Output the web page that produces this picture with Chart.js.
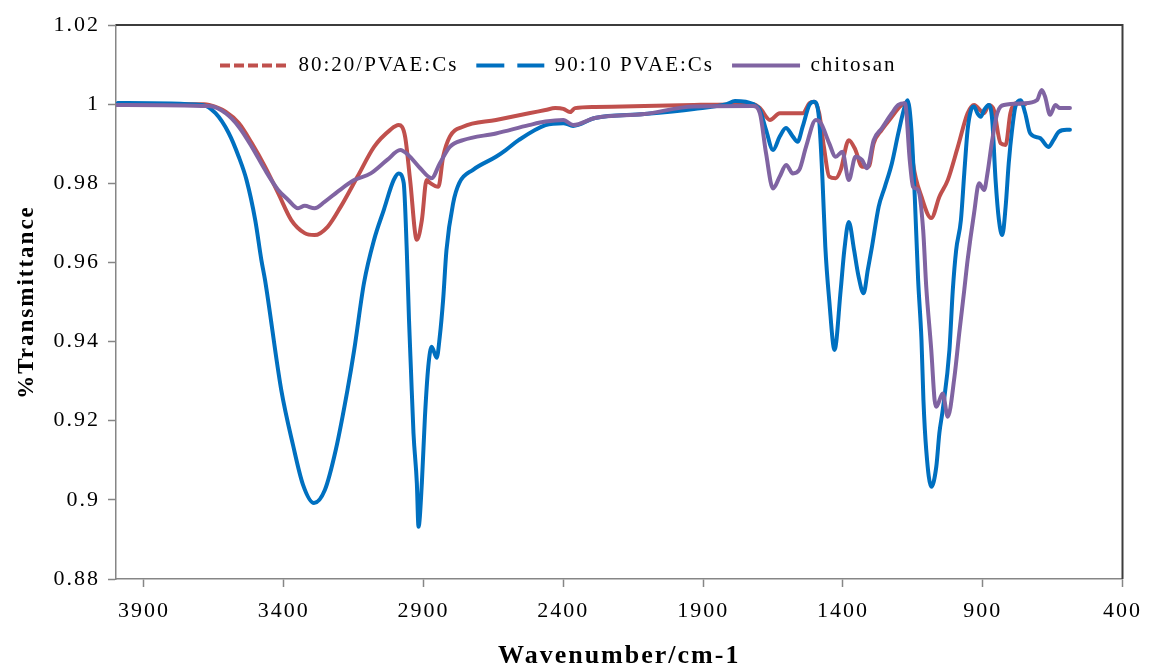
<!DOCTYPE html>
<html lang="en">

<head>
    <meta charset="UTF-8">
    <title>FTIR - PVAE:Cs</title>
    <script src="https://cdn.jsdelivr.net/npm/chart.js"></script>
    <style>
        html,
        body {
            margin: 0;
            padding: 0;
            background: #fff;
            overflow: hidden;
        }

        canvas {
            display: block;
        }
    </style>
</head>

<body>
    <canvas id="grafico" width="1153" height="680"></canvas>
</body>

</html>
<script>

    // espectros (numero de onda em cm-1, transmitancia)
    const seriesNames = ["80:20/PVAE:Cs", "90:10 PVAE:Cs", "chitosan"];

    const wn8020 = [3993, 3685, 3667, 3608, 3561, 3514, 3467, 3420, 3373, 3325, 3290, 3243, 3196, 3136, 3077,
        3019, 2989, 2966, 2948, 2924, 2906, 2889, 2877, 2847, 2830, 2806, 2759, 2641, 2523, 2464, 2429, 2400,
        2376, 2358, 2287, 2110, 1933, 1721, 1697, 1661, 1626, 1544, 1520, 1503, 1485, 1468, 1449, 1426, 1408,
        1379, 1355, 1332, 1308, 1290, 1261, 1225, 1196, 1178, 1161, 1149, 1119, 1084, 1055, 1025, 989, 954,
        931, 895, 878, 860, 836, 818, 801, 783, 748];
    const t8020 = [1.0000, 1.0000, 0.9998, 0.9981, 0.9952, 0.9901, 0.9842, 0.9775, 0.9707, 0.9674, 0.9669,
        0.9690, 0.9741, 0.9817, 0.9892, 0.9935, 0.9947, 0.9918, 0.9808, 0.9657, 0.9707, 0.9808, 0.9801, 0.9791,
        0.9867, 0.9918, 0.9943, 0.9960, 0.9977, 0.9985, 0.9990, 0.9988, 0.9980, 0.9990, 0.9993, 0.9995, 0.9998,
        1.0000, 0.9990, 0.9960, 0.9977, 0.9977, 1.0002, 1.0006, 0.9977, 0.9892, 0.9817, 0.9813, 0.9834, 0.9909,
        0.9884, 0.9842, 0.9842, 0.9901, 0.9935, 0.9968, 0.9994, 1.0002, 0.9935, 0.9850, 0.9766, 0.9712, 0.9766,
        0.9808, 0.9892, 0.9977, 0.9998, 0.9977, 0.9998, 0.9985, 0.9901, 0.9897, 0.9977, 1.0002, 1.0000];

    const wn9010 = [3993, 3692, 3644, 3597, 3561, 3533, 3502, 3480, 3467, 3409, 3367, 3331, 3292, 3253, 3214,
        3172, 3148, 3113, 3077, 3042, 3007, 2989, 2971, 2960, 2952, 2945, 2936, 2924, 2918, 2906, 2895, 2883,
        2871, 2853, 2842, 2830, 2818, 2794, 2772, 2723, 2641, 2606, 2560, 2464, 2400, 2365, 2287, 2110, 1933,
        1816, 1786, 1721, 1697, 1675, 1650, 1626, 1604, 1579, 1562, 1544, 1520, 1503, 1485, 1473, 1463, 1449,
        1430, 1408, 1395, 1379, 1360, 1345, 1326, 1311, 1296, 1272, 1250, 1225, 1202, 1179, 1169, 1155, 1143,
        1131, 1119, 1112, 1102, 1084, 1066, 1055, 1043, 1019, 1007, 995, 978, 966, 954, 942, 931, 919, 907,
        895, 878, 866, 854, 842, 830, 818, 807, 795, 783, 765, 748, 730, 695, 665, 647, 628, 600, 588];
    const t9010 = [1.0003, 0.9998, 0.9977, 0.9927, 0.9867, 0.9808, 0.9707, 0.9606, 0.9556, 0.9278, 0.9139,
        0.9038, 0.8992, 0.9025, 0.9126, 0.9278, 0.9379, 0.9548, 0.9657, 0.9733, 0.9808, 0.9825, 0.9801, 0.9631,
        0.9455, 0.9328, 0.9169, 0.9043, 0.8932, 0.9043, 0.9210, 0.9337, 0.9387, 0.9359, 0.9412, 0.9505, 0.9631,
        0.9750, 0.9801, 0.9834, 0.9867, 0.9884, 0.9909, 0.9947, 0.9952, 0.9945, 0.9965, 0.9975, 0.9988, 1.0000,
        1.0008, 1.0000, 0.9985, 0.9935, 0.9884, 0.9918, 0.9940, 0.9918, 0.9905, 0.9943, 0.9998, 1.0006, 0.9960,
        0.9808, 0.9640, 0.9505, 0.9379, 0.9530, 0.9631, 0.9702, 0.9631, 0.9568, 0.9522, 0.9581, 0.9640, 0.9741,
        0.9791, 0.9850, 0.9926, 0.9994, 1.0010, 0.9935, 0.9766, 0.9556, 0.9404, 0.9252, 0.9126, 0.9033, 0.9084,
        0.9169, 0.9227, 0.9379, 0.9530, 0.9631, 0.9707, 0.9825, 0.9935, 0.9985, 0.9994, 0.9977, 0.9968, 0.9985,
        0.9998, 0.9960, 0.9808, 0.9707, 0.9669, 0.9741, 0.9850, 0.9935, 0.9994, 1.0010, 0.9977, 0.9926, 0.9914,
        0.9892, 0.9909, 0.9930, 0.9935, 0.9935];

    const wnCs = [3998, 3667, 3608, 3561, 3514, 3467, 3420, 3384, 3349, 3325, 3290, 3254, 3207, 3148, 3089,
        3030, 2983, 2954, 2912, 2871, 2842, 2806, 2759, 2641, 2523, 2464, 2400, 2365, 2287, 2110, 1933, 1721,
        1697, 1675, 1650, 1626, 1603, 1579, 1556, 1532, 1497, 1479, 1449, 1426, 1402, 1379, 1355, 1332, 1314,
        1290, 1261, 1225, 1202, 1178, 1161, 1149, 1131, 1113, 1102, 1084, 1072, 1066, 1043, 1025, 1001, 984,
        966, 954, 931, 913, 895, 883, 866, 848, 824, 754, 706, 689, 677, 659, 640, 624, 588];
    const tCs = [0.9998, 0.9995, 0.9977, 0.9943, 0.9892, 0.9834, 0.9783, 0.9758, 0.9737, 0.9743, 0.9737,
        0.9753, 0.9779, 0.9808, 0.9825, 0.9859, 0.9884, 0.9871, 0.9838, 0.9813, 0.9850, 0.9892, 0.9909, 0.9926,
        0.9947, 0.9956, 0.9960, 0.9947, 0.9965, 0.9975, 0.9994, 0.9995, 0.9977, 0.9876, 0.9787, 0.9817, 0.9846,
        0.9825, 0.9834, 0.9892, 0.9960, 0.9952, 0.9901, 0.9867, 0.9880, 0.9808, 0.9867, 0.9859, 0.9838, 0.9909,
        0.9939, 0.9977, 0.9998, 1.0002, 0.9859, 0.9791, 0.9783, 0.9682, 0.9539, 0.9379, 0.9252, 0.9235, 0.9269,
        0.9210, 0.9311, 0.9421, 0.9530, 0.9606, 0.9724, 0.9800, 0.9783, 0.9825, 0.9909, 0.9977, 0.9998, 1.0002,
        1.0010, 1.0036, 1.0019, 0.9973, 0.9998, 0.9990, 0.9990];

    const xTicks = [3900, 3400, 2900, 2400, 1900, 1400, 900, 400];
    const xTickLabels = ["3900", "3400", "2900", "2400", "1900", "1400", "900", "400"];
    const yTicks = [0.88, 0.90, 0.92, 0.94, 0.96, 0.98, 1.00, 1.02];
    const yTickLabels = ["0.88", "0.9", "0.92", "0.94", "0.96", "0.98", "1", "1.02"];

    // tracejado so na legenda (por dataset)
    const legendDash = [[10, 4], [28, 13], []];

    const serif = "'Times New Roman', 'Liberation Serif', serif";
    const cinza = "#868686";

    const pontos = (wn, t) => wn.map((w, i) => ({ x: w, y: t[i] }));

    // texto do Excel sai bem espacado
    const espacamento = {
        id: "espacamento",
        beforeUpdate(chart) { chart.ctx.letterSpacing = "2px"; },
        beforeDraw(chart) { chart.ctx.letterSpacing = "2px"; }
    };

    // borda de cima e da direita da area do grafico
    const moldura = {
        id: "moldura",
        afterDraw(chart) {
            const { ctx, chartArea: a } = chart;
            ctx.save();
            ctx.strokeStyle = "#3c3c3c";
            ctx.lineWidth = 2;
            ctx.beginPath();
            ctx.moveTo(a.left, a.top);
            ctx.lineTo(a.right, a.top);
            ctx.lineTo(a.right, a.bottom);
            ctx.stroke();
            ctx.restore();
        }
    };

    // legenda em uma linha dentro da area, um pouco a esquerda
    const legendaDentro = {
        id: "legendaDentro",
        beforeLayout(chart) {
            chart.legend.isHorizontal = () => true;
        },
        afterLayout(chart) {
            const lg = chart.legend;
            const a = chart.chartArea;
            const w = lg.width, h = lg.height;
            lg.left = a.left + 86;
            lg.right = lg.left + w;
            lg.top = a.top + 12;
            lg.bottom = lg.top + h;
        }
    };

    const ctx = document.getElementById("grafico").getContext("2d");

    const grafico = new Chart(ctx, {
        type: "scatter",
        data: {
            datasets: [
                { label: seriesNames[0], data: pontos(wn8020, t8020), borderColor: "#C0504D", backgroundColor: "#C0504D", showLine: true, order: 3 },
                { label: seriesNames[1], data: pontos(wn9010, t9010), borderColor: "#0070C0", backgroundColor: "#0070C0", showLine: true, order: 2 },
                { label: seriesNames[2], data: pontos(wnCs, tCs), borderColor: "#8064A2", backgroundColor: "#8064A2", showLine: true, order: 1 }
            ]
        },
        options: {
            responsive: false,
            animation: false,
            events: [],
            elements: {
                point: { radius: 0, hoverRadius: 0 },
                line: { borderWidth: 4, cubicInterpolationMode: "monotone", borderJoinStyle: "round", borderCapStyle: "round" }
            },
            layout: { padding: { top: 25, right: 19, left: 0, bottom: 0 } },
            scales: {
                x: {
                    type: "linear",
                    reverse: true,
                    min: 400,
                    max: 4000,
                    afterBuildTicks: s => { s.ticks = xTicks.map(v => ({ value: v })); },
                    afterFit: s => { s.height = 101; },
                    ticks: {
                        autoSkip: false,
                        maxRotation: 0,
                        padding: 11,
                        color: "#000",
                        font: { family: serif, size: 22 },
                        callback: v => xTickLabels[xTicks.indexOf(v)]
                    },
                    grid: { drawOnChartArea: false, color: cinza, tickLength: 8, tickWidth: 1.5 },
                    border: { color: cinza, width: 1.5 },
                    title: {
                        display: true,
                        text: "Wavenumber/cm-1",
                        color: "#000",
                        font: { family: serif, size: 26, weight: "bold" },
                        padding: { top: 0, bottom: 8 }
                    }
                },
                y: {
                    min: 0.88,
                    max: 1.02,
                    afterBuildTicks: s => { s.ticks = yTicks.map(v => ({ value: v })); },
                    afterFit: s => { s.width = 116; },
                    ticks: {
                        padding: 8,
                        color: "#000",
                        font: { family: serif, size: 22 },
                        callback: v => yTickLabels[yTicks.findIndex(t => Math.abs(t - v) < 1e-6)]
                    },
                    grid: { drawOnChartArea: false, color: cinza, tickLength: 8, tickWidth: 1.5 },
                    border: { color: cinza, width: 1.5 },
                    title: {
                        display: true,
                        text: "%Transmittance",
                        color: "#000",
                        font: { family: serif, size: 23, weight: "bold" },
                        padding: { top: 13, bottom: 0 }
                    }
                }
            },
            plugins: {
                tooltip: { enabled: false },
                legend: {
                    position: "chartArea",
                    align: "start",
                    labels: {
                        usePointStyle: true,
                        pointStyle: "line",
                        pointStyleWidth: 68,
                        padding: 18,
                        color: "#000",
                        font: { family: serif, size: 21 },
                        sort: (a, b) => a.datasetIndex - b.datasetIndex,
                        generateLabels: chart => Chart.defaults.plugins.legend.labels.generateLabels(chart)
                            .map(item => ({ ...item, lineDash: legendDash[item.datasetIndex], lineWidth: 4 }))
                    }
                }
            }
        },
        plugins: [espacamento, moldura, legendaDentro]
    });

</script>
